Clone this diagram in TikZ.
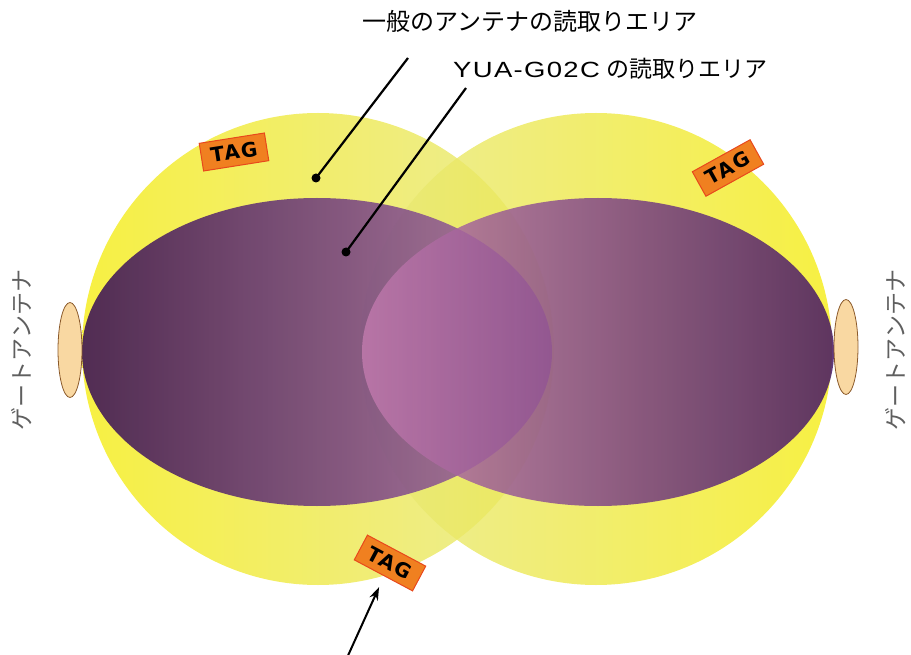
\documentclass[tikz,border=0pt]{standalone}
\usepackage{fontspec}
\usetikzlibrary{shapes.geometric,arrows.meta}
\newfontfamily\jp{Noto Sans CJK JP}
\newfontfamily\latwide{Liberation Sans}[FakeStretch=1.25, LetterSpace=6]
\newfontfamily\tagfont{DejaVu Sans}[LetterSpace=8]
\definecolor{ylB}{RGB}{245,236,20}
\definecolor{ylP}{RGB}{231,231,124}
\definecolor{puLa}{RGB}{52,10,85}
\definecolor{puLb}{RGB}{165,105,165}
\definecolor{puRa}{RGB}{192,122,172}
\definecolor{puRb}{RGB}{68,22,100}
\definecolor{antFill}{RGB}{249,216,162}
\definecolor{antLine}{RGB}{139,90,43}
\definecolor{tagFill}{RGB}{240,128,32}
\definecolor{tagLine}{RGB}{232,72,28}
\definecolor{gateText}{RGB}{95,95,95}
\tikzset{
  antenna/.style={ellipse, fill=antFill, draw=antLine, line width=0.8pt, minimum width=24pt, minimum height=95pt, inner sep=0pt},
  tagbox/.style={rectangle, fill=tagFill, draw=tagLine, line width=1pt, minimum width=66pt, minimum height=28pt, inner sep=0pt, font=\fontsize{20}{20}\tagfont\bfseries\selectfont},
  gatelabel/.style={rotate=90, text=gateText, inner sep=0pt, font=\fontsize{23}{25}\jp\selectfont},
  toplabel/.style={anchor=west, inner sep=0pt, font=\fontsize{24}{28}\jp\selectfont},
  dotmark/.style={circle, fill=black, minimum size=9pt, inner sep=0pt},
  leader/.style={line width=2.2pt, black}
}
\begin{document}
\begin{tikzpicture}[x=1pt,y=-1pt]
\useasboundingbox (0,0) rectangle (911,655);
% yellow read areas
\shade[left color=ylB, right color=ylP, fill opacity=0.8] (318,349) circle [radius=236pt];
\shade[left color=ylP, right color=ylB, fill opacity=0.8] (596,349) circle [radius=236pt];
% purple read areas
\shade[left color=puLa, right color=puLb, fill opacity=0.85] (317,352) ellipse [x radius=235pt, y radius=154pt];
\shade[left color=puRa, right color=puRb, fill opacity=0.85] (598,352) ellipse [x radius=236pt, y radius=154pt];
% antennas
\node[antenna] (antL) at (70,350) {};
\node[antenna] (antR) at (846,347) {};
\node[gatelabel] (gateL) at (22,350) {ゲートアンテナ};
\node[gatelabel] (gateR) at (896,350) {ゲートアンテナ};
% tags
\node[tagbox, rotate=9] (tag1) at (234,152) {TAG};
\node[tagbox, rotate=29] (tag2) at (728,168) {TAG};
\node[tagbox, rotate=-28] (tag3) at (390,563) {TAG};
% labels
\node[toplabel] (lab1) at (362,21) {一般のアンテナの読取りエリア};
\node[toplabel] (lab2) at (453,69) {{\fontsize{22}{26}\latwide\selectfont YUA-G02C}\hspace{7pt}{\fontsize{23}{26}\selectfont の読取りエリア}};
% leaders
\node[dotmark] (dot1) at (316,178) {};
\node[dotmark] (dot2) at (346,252) {};
\coordinate (l1s) at (408,58);
\coordinate (l2s) at (466,88);
\draw[leader] (l1s) -- (dot1.center);
\draw[leader] (l2s) -- (dot2.center);
\coordinate (arrS) at (346,660);
\draw[leader, line width=2pt, -{Stealth[length=13pt,width=9pt]}, shorten >=12pt] (arrS) -- (tag3);
\end{tikzpicture}
\end{document}
